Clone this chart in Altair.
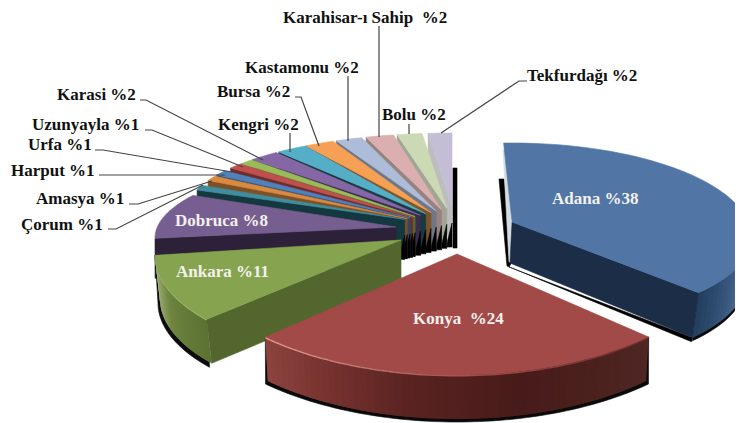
import math
import altair as alt
import pandas as pd

# ---- chart data ----
categories = ["Adana", "Konya", "Ankara", "Dobruca", "Çorum", "Amasya", "Harput", "Urfa",
              "Uzunyayla", "Karasi", "Kengri", "Bursa", "Kastamonu", "Karahisar-ı Sahip",
              "Bolu", "Tekfurdağı"]
shares = [38, 24, 11, 8, 1, 1, 1, 1, 1, 2, 2, 2, 2, 2, 2, 2]
label_texts = ["Adana %38", "Konya\u00a0 %24", "Ankara %11", "Dobruca %8", "Çorum %1", "Amasya %1",
               "Harput %1", "Urfa %1", "Uzunyayla %1", "Karasi %2", "Kengri %2", "Bursa %2",
               "Kastamonu %2", "Karahisar-ı Sahip\u00a0 %2", "Bolu %2", "Tekfurdağı %2"]
top_colors = ["#5176A6", "#A24A47", "#86A44F", "#775E90", "#3F8D9E", "#D98A3F", "#4F81BD", "#C0504D",
              "#9BBB59", "#8567A6", "#55AEC8", "#F5A055", "#ADBDD9", "#DBAEAF", "#CCD9B5", "#C3BDD5"]
wall_colors = ["#1C2D47", "#4A1C1A", "#52662E", "#2C2138", "#14383F", "#7E5025", "#2B4A70", "#6E2D2B",
               "#55682F", "#3C2C50", "#17393F", "#7D5426", "#6F7787", "#978280", "#A1A595", "#BDBDBD"]

# ---- drawing layout, in page pixels ----
W, H, M = 727, 415, 8
BIG = {
    "Adana": dict(apex=(512, 222), c=(512, 238), rx=240, ryt=95, ryb=87, d0=-2, d1=-7.8, t=45),
    "Konya": dict(apex=(457, 254), c=(457, 235), rx=280, ryt=140, ryb=140, d0=0, d1=0, t=44),
    "Ankara": dict(apex=(401, 240), c=(401, 255), rx=246, ryt=105, ryb=105, d0=9, d1=7, t=44),
    "Dobruca": dict(apex=(396, 227), c=(396, 238), rx=241, ryt=79, ryb=79, d0=7, d1=11, t=40),
}
SMALL_C, SMALL_RX, SMALL_RY, SMALL_T = (452, 210), 264, 77, 40
SMALL_D = {"Çorum": -6.5, "Amasya": -2.7, "Harput": -1.8, "Urfa": 0.6, "Uzunyayla": 1, "Karasi": 1.4,
           "Kengri": 2.2, "Bursa": 2.4, "Kastamonu": 2.8, "Karahisar-ı Sahip": 2.6, "Bolu": 2.4,
           "Tekfurdağı": 2}
SMALL_TRIM = {"Bursa": 0.4, "Kastamonu": 1.2, "Karahisar-ı Sahip": 1, "Bolu": 1.7, "Tekfurdağı": 2}
LABEL_POS = {"Adana": (552, 199, "w"), "Konya": (413, 319, "w"), "Ankara": (176, 272, "w"),
             "Dobruca": (175, 221, "w"), "Çorum": (21, 225, "k"), "Amasya": (36, 199, "k"),
             "Harput": (11, 171, "k"), "Urfa": (28, 145, "k"), "Uzunyayla": (32, 125, "k"),
             "Karasi": (57, 95, "k"), "Kengri": (218, 125, "k"), "Bursa": (217, 92, "k"),
             "Kastamonu": (245, 68, "k"), "Karahisar-ı Sahip": (283, 18, "k"),
             "Bolu": (382, 115, "k"), "Tekfurdağı": (527, 76, "k")}
LEADERS = {"Karahisar-ı Sahip": [(379, 26), (379, 137)], "Kastamonu": [(348, 76), (348, 141)],
           "Bursa": [(295, 97), (301, 97), (319, 146)], "Kengri": [(290, 133), (290, 152)],
           "Karasi": [(140, 100), (146, 100), (263, 160)], "Uzunyayla": [(145, 130), (152, 130), (243, 167)],
           "Urfa": [(95, 150), (103, 150), (232, 172)], "Harput": [(99, 175), (225, 175)],
           "Amasya": [(129, 204), (138, 204), (212, 181)], "Çorum": [(108, 229), (116, 229), (203, 185)],
           "Bolu": [(409, 124), (409, 134)], "Tekfurdağı": [(527, 81), (519, 81), (441, 133)]}


def mix(a, b, f):
    ca = [int(a[i:i + 2], 16) for i in (1, 3, 5)]
    cb = [int(b[i:i + 2], 16) for i in (1, 3, 5)]
    return "#%02x%02x%02x" % tuple(round(x + (y - x) * f) for x, y in zip(ca, cb))


def ramp(stops, f):
    for (f0, c0), (f1, c1) in zip(stops, stops[1:]):
        if f <= f1:
            return mix(c0, c1, (f - f0) / (f1 - f0))
    return stops[-1][1]


def rim(c, rx, ryt, ryb, a0, a1, n=40):
    pts = []
    for i in range(n + 1):
        a = math.radians(a0 + (a1 - a0) * i / n)
        co = math.cos(a)
        pts.append((c[0] + rx * math.sin(a), c[1] - (ryt if co > 0 else ryb) * co))
    return pts


def drop(pts, t):
    return [(x, y + t) for x, y in pts]


features = []


def poly(pts, fill, sw=0.6):
    ring = [list(p) for p in pts] + [list(pts[0])]
    features.append({"type": "Feature", "geometry": {"type": "Polygon", "coordinates": [ring]},
                     "properties": {"fill": fill, "sw": sw}})


def band(r, lo, stops):
    # the outer wall: quads that overlap their neighbour so no seams show
    n = len(r) - 1
    for i in range(n):
        j = min(i + 2, n)
        poly([r[i], r[j], lo[j], lo[i]], ramp(stops, i / max(n - 1, 1)), 0)


angles = {}
acc = 0.0
for name, s in zip(categories, shares):
    angles[name] = (acc, acc + s * 3.6)
    acc += s * 3.6
top = dict(zip(categories, top_colors))
wall = dict(zip(categories, wall_colors))

# small slices, back to front
for name in reversed(categories[4:]):
    a0, a1 = angles[name]
    d = SMALL_D[name]
    r = rim(SMALL_C, SMALL_RX, SMALL_RY, SMALL_RY, a0 + d, a1 + d - SMALL_TRIM.get(name, 0), 6)
    f = (a1 - 291.6) / 68.4
    apex = (402 + 50 * f, 220 - 13 * f)
    left = r[0]
    poly([left, apex, (apex[0], apex[1] + SMALL_T), (left[0], left[1] + SMALL_T)], wall[name])
    poly([(apex[0], apex[1] + 16), (apex[0], apex[1] + SMALL_T), (apex[0] - 6, apex[1] + SMALL_T)], "#000000")
    poly(r + [apex], top[name])
    if name == "Tekfurdağı":
        poly([(453, 168), (457, 168), (457, 248), (453, 248)], "#000000")

# Dobruca
g = BIG["Dobruca"]
a0, a1 = angles["Dobruca"]
r = rim(g["c"], g["rx"], g["ryt"], g["ryb"], a0 + g["d0"], a1 + g["d1"])
poly([r[0], g["apex"], (g["apex"][0], g["apex"][1] + g["t"]), (r[0][0], r[0][1] + g["t"])], wall["Dobruca"])
poly(r + [g["apex"]], top["Dobruca"])

# Ankara
g = BIG["Ankara"]
a0, a1 = angles["Ankara"]
r = rim(g["c"], g["rx"], g["ryt"], g["ryb"], a0 + g["d0"], a1 + g["d1"])
lo = [(x + 5, y + g["t"]) for x, y in r]
poly(r + [(x - 2, y + 4) for x, y in lo[::-1]], "#0C0C0C")
poly([r[0], g["apex"], (g["apex"][0], g["apex"][1] + g["t"]), lo[0]], wall["Ankara"])
band(r, lo, [(0, "#5C7232"), (0.5, "#6E8440"), (0.8, "#98AB6F"), (1, "#B5C59C")])
poly(r + [g["apex"]], top["Ankara"])
for i in range(len(r) - 1):
    poly([r[i], r[i + 1], (r[i + 1][0], r[i + 1][1] + 1.2), (r[i][0], r[i][1] + 1.2)], "#A5C066", 0)

# Konya
g = BIG["Konya"]
a0, a1 = angles["Konya"]
r = rim(g["c"], g["rx"], g["ryt"], g["ryb"], a0, a1, 60)
lo = [(g["c"][0] + (x - g["c"][0]) * 0.987, y + g["t"]) for x, y in r]
poly(r + [(g["c"][0] + (x - g["c"][0]) * 1.012, y + 3) for x, y in lo[::-1]], "#0A0A0A")
band(r, lo, [(0, "#4E2622"), (0.35, "#471B19"), (0.62, "#5A2321"), (0.85, "#7A3531"), (1, "#8C433E")])
poly(r + [g["apex"]], top["Konya"])
for i in range(len(r) - 1):
    f = i / (len(r) - 2)
    poly([r[i], r[i + 1], (r[i + 1][0], r[i + 1][1] + 1.5), (r[i][0], r[i][1] + 1.5)],
         ramp([(0, "#6B2F2C"), (0.45, "#A24A47"), (1, "#E2A09A")], f), 0)

# Adana stands apart on the right
g = BIG["Adana"]
a0, a1 = angles["Adana"]
r = rim(g["c"], g["rx"], g["ryt"], g["ryb"], a0 + g["d0"], a1 + g["d1"], 60)
apex = g["apex"]
corner = r[-1]
low = [(g["c"][0] + (x - g["c"][0]) * 0.968, y + g["t"]) for x, y in r]
corner_low = low[-1]
apex_low = (apex[0] - 2, apex[1] + 41)
poly([(499, 179), (504, 179), (512, 262), (509, 267), corner_low, (corner_low[0] - 1, corner_low[1] + 4), (507, 266)], "#000000")
poly([(503, 150), (507, 150), (513, 262), (509, 262)], "#D5DBE3")
front = [i for i, p in enumerate(r) if p[1] >= g["c"][1] - 2]
poly([r[i] for i in front] + drop([low[i] for i in front[::-1]], 3), "#0A0A0A")
band([r[i] for i in front], [low[i] for i in front],
     [(0, "#7A90A8"), (0.25, "#5C7896"), (0.6, "#3A5A80"), (1, "#24405F")])
poly([apex, corner, corner_low, apex_low], wall["Adana"])
poly(r + [apex], top["Adana"])

shapes = alt.Chart(alt.Data(values=features)).mark_geoshape(clip=True).encode(
    fill=alt.Fill("properties.fill:N", scale=None),
    stroke=alt.Stroke("properties.fill:N", scale=None),
    strokeWidth=alt.StrokeWidth("properties.sw:Q", scale=None),
).project(type="identity", scale=1, translate=[-M, -M])

xs = alt.Scale(domain=[M, M + W], range=[0, W])
ys = alt.Scale(domain=[M, M + H], range=[0, H])

leader_rows = []
for name, pts in LEADERS.items():
    for i, (x, y) in enumerate(pts):
        leader_rows.append({"name": name, "i": i, "x": x, "y": y})
leaders = alt.Chart(pd.DataFrame(leader_rows)).mark_line(color="#444444", strokeWidth=1.2).encode(
    x=alt.X("x:Q", scale=xs, axis=None),
    y=alt.Y("y:Q", scale=ys, axis=None),
    detail="name:N",
    order="i:Q",
)

label_rows = []
for name, txt in zip(categories, label_texts):
    x, y, tone = LABEL_POS[name]
    label_rows.append({"name": name, "txt": txt, "x": x, "y": y, "col": "#F4F1EE" if tone == "w" else "#111111"})
labels = alt.Chart(pd.DataFrame(label_rows)).mark_text(
    align="left", baseline="middle", font="Liberation Serif", fontWeight="bold", fontSize=17
).encode(
    x=alt.X("x:Q", scale=xs, axis=None),
    y=alt.Y("y:Q", scale=ys, axis=None),
    text="txt:N",
    color=alt.Color("col:N", scale=None),
)

chart = alt.layer(shapes, leaders, labels).resolve_scale(x="shared", y="shared").properties(
    width=W, height=H, padding=0, background="white",
    autosize=alt.AutoSizeParams(type="none"),
).configure_view(stroke=None)

chart.save("out.html", embed_options={"renderer": "svg", "actions": False})
